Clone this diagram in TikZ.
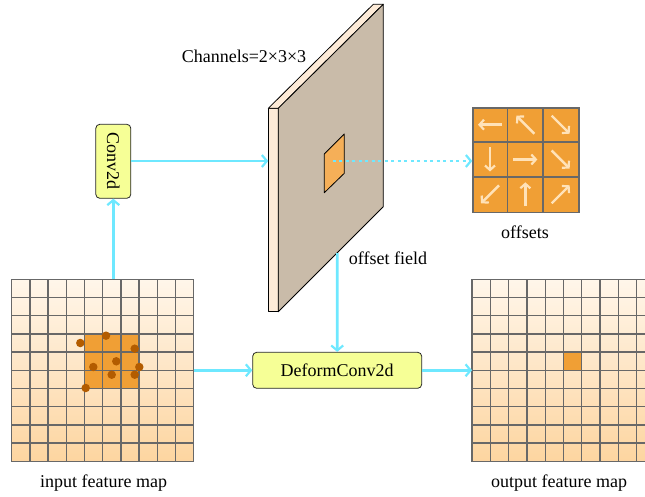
\documentclass[tikz,border=0pt]{standalone}
\usepackage{fontspec}
\setmainfont{Liberation Serif}
\usetikzlibrary{arrows.meta,calc}

\definecolor{flowc}{HTML}{6EE8FF}
\definecolor{gridc}{HTML}{686868}
\definecolor{mapTop}{HTML}{FFF6EA}
\definecolor{mapBot}{HTML}{FDD5A0}
\definecolor{hot}{HTML}{F09F35}
\definecolor{dotc}{HTML}{B35C00}
\definecolor{plateF}{HTML}{C9BBA9}
\definecolor{plateS}{HTML}{FDEBD8}
\definecolor{patchc}{HTML}{F5AF58}
\definecolor{boxc}{HTML}{F6FF96}
\definecolor{offarr}{HTML}{FFE2B8}

\tikzset{
  lbl/.style={font=\fontsize{18}{21}\selectfont, inner sep=0pt},
  opbox/.style={draw=black!85, line width=0.8pt, fill=boxc, rounded corners=4pt,
                font=\fontsize{18}{21}\selectfont, inner sep=0pt},
  flow/.style={draw=flowc, line width=2.6pt,
               -{Straight Barb[length=5pt,width=12pt,line width=2.2pt]}},
  dotflow/.style={flow, dash pattern=on 3pt off 3.5pt},
  gridline/.style={draw=gridc, line width=1.3pt},
  mapbox/.style={draw=gridc, line width=1.3pt, top color=mapTop, bottom color=mapBot,
                 inner sep=0pt, outer sep=0pt},
  offarrow/.style={draw=offarr, line width=2.4pt,
                   -{Straight Barb[length=4.5pt,width=10pt,line width=2.2pt]}},
  sample/.style={fill=dotc, circle, inner sep=0pt, minimum size=8.5pt},
}

\begin{document}
\begin{tikzpicture}[x=1pt,y=-1pt]
\useasboundingbox (0,0) rectangle (645,497);

% ---------- input feature map ----------
\node[mapbox, minimum width=182pt, minimum height=182pt, anchor=north west]
  (inmap) at (11.7,279.3) {};
\fill[hot] (84.5,333.9) rectangle (139.1,388.5);
\foreach \k in {0,...,10} {
  \draw[gridline] (11.7+\k*18.2,279.3) -- (11.7+\k*18.2,461.3);
  \draw[gridline] (11.7,279.3+\k*18.2) -- (193.7,279.3+\k*18.2);
}
% sampling locations
\foreach \p/\x/\y in {s1/80.3/343, s2/106/335.7, s3/134.7/348.7, s4/116.3/361.3,
                      s5/93.3/367, s6/139.3/367, s7/111.7/374.7, s8/134.7/374.7, s9/85.7/388}
  \node[sample] (\p) at (\x,\y) {};
\node[lbl] (inlbl) at (103.7,483) {input feature map};

% ---------- output feature map ----------
\begin{scope}
\clip (0,0) rectangle (645,497);
\node[mapbox, minimum width=183pt, minimum height=182pt, anchor=north west]
  (outmap) at (472,279.3) {};
\fill[hot] (563.5,352.1) rectangle (581.8,370.3);
\foreach \k in {0,...,10} {
  \draw[gridline] (472+\k*18.3,279.3) -- (472+\k*18.3,461.3);
  \draw[gridline] (472,279.3+\k*18.2) -- (655,279.3+\k*18.2);
}
\end{scope}
\node[lbl] (outlbl) at (559,483) {output feature map};

% ---------- offset field plate ----------
\coordinate (pA) at (278.3,108.3);
\coordinate (pB) at (383.3,4.3);
\coordinate (pC) at (383.3,206.7);
\coordinate (pD) at (278.3,311.7);
\coordinate (pdepth) at (-10,0);
\filldraw[fill=plateS, draw=black, line width=0.8pt, line join=round]
  ($(pA)+(pdepth)$) -- (pA) -- (pD) -- ($(pD)+(pdepth)$) -- cycle;
\filldraw[fill=plateS, draw=black, line width=0.8pt, line join=round]
  ($(pA)+(pdepth)$) -- ($(pB)+(pdepth)$) -- (pB) -- (pA) -- cycle;
\filldraw[fill=plateF, draw=black, line width=0.8pt, line join=round]
  (pA) -- (pB) -- (pC) -- (pD) -- cycle;
\filldraw[fill=patchc, draw=black, line width=0.8pt, line join=round]
  (324.3,154) -- (344.3,134) -- (344.3,173.3) -- (324.3,192.7) -- cycle;
\coordinate (patchout) at (332.7,161);
\coordinate (platein) at (268.3,161);
\coordinate (plateout) at (337.3,253);
\node[lbl] (chlbl) at (244,56) {Channels=2×3×3};
\node[lbl] (fieldlbl) at (388,258) {offset field};

% ---------- offsets ----------
\node[draw=gridc, line width=1.3pt, fill=hot, minimum width=106pt, minimum height=104.4pt,
      inner sep=0pt, anchor=north west] (offs) at (472.3,107.3) {};
\foreach \k in {1,2} {
  \draw[gridline] (472.3+\k*35.33,107.3) -- (472.3+\k*35.33,211.7);
  \draw[gridline] (472.3,107.3+\k*34.8) -- (578.3,107.3+\k*34.8);
}
\foreach \c/\r/\ux/\uy in {0/0/-12/0, 1/0/-9/-9, 2/0/9/9,
                           0/1/0/12, 1/1/12/0, 2/1/9/9,
                           0/2/-9/9, 1/2/0/-12, 2/2/9/-9}
  \draw[offarrow] (490+\c*35.33-\ux, 124.7+\r*34.8-\uy) -- ++(2*\ux, 2*\uy);
\node[lbl] (offlbl) at (525,232) {offsets};

% ---------- operators ----------
\node[opbox, minimum width=35pt, minimum height=74pt] (conv) at (113.3,161.3)
  {\rotatebox{-90}{Conv2d}};
\node[opbox, minimum width=169pt, minimum height=36pt] (deform) at (337.2,370.3)
  {DeformConv2d};

% ---------- connectors ----------
\draw[flow] (conv.south |- inmap.north) -- (conv.south);
\draw[flow] (conv.east |- platein) -- (platein);
\draw[dotflow] (patchout) -- (patchout -| offs.west);
\draw[flow] (plateout) -- (deform.north);
\draw[flow] (inmap.east |- deform.west) -- (deform.west);
\draw[flow] (deform.east) -- (deform.east -| outmap.west);
\end{tikzpicture}
\end{document}
